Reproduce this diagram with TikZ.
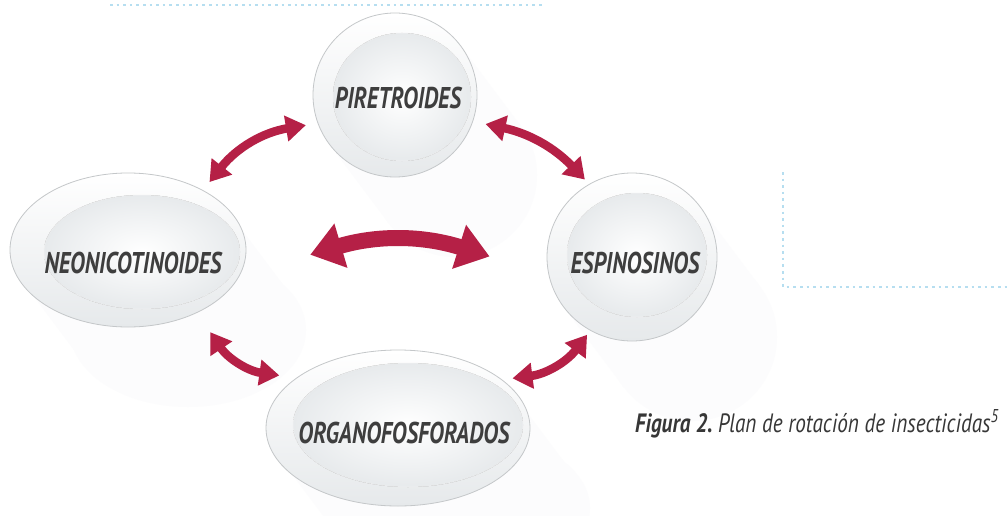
\documentclass[tikz,border=0pt]{standalone}
\usepackage{fontspec}
\usetikzlibrary{arrows.meta,shapes.geometric,calc}
\newfontfamily\labfont[FakeStretch=0.755]{PT Sans}
\newfontfamily\capfont[FakeStretch=0.8]{PT Sans}
\definecolor{arrred}{RGB}{181,32,70}
\definecolor{labgray}{RGB}{62,62,62}
\definecolor{capgray}{RGB}{55,55,55}
\definecolor{rimline}{RGB}{196,199,201}
\definecolor{rimfill}{RGB}{230,233,235}
\definecolor{innerfill}{RGB}{231,234,236}
\definecolor{dotblue}{RGB}{182,222,240}
\definecolor{shadowc}{RGB}{252,252,253}
\tikzset{
  disc/.style={ellipse, inner sep=0pt, draw=rimline, line width=0.8pt,
    top color=white, bottom color=rimfill},
  innerdisc/.style={inner color=white, outer color=innerfill, draw=gray!10, line width=0.5pt},
  lab/.style={font=\labfont\bfseries\itshape\fontsize{30}{32}\selectfont, text=labgray, inner sep=0pt},
  arr/.style={draw=arrred, line width=8.5pt,
    {Triangle[length=20pt,width=25pt]}-{Triangle[length=20pt,width=25pt]}},
  bigarr/.style={draw=arrred, line width=16pt,
    {Triangle[length=32pt,width=44pt]}-{Triangle[length=32pt,width=44pt]}},
  dotline/.style={draw=dotblue, line width=2.6pt, dash pattern=on 2.6pt off 4pt},
}
\begin{document}
\begin{tikzpicture}[x=1pt,y=-1pt]
\useasboundingbox[fill=white] (0,0) rectangle (1008,516);
% faint dotted frame lines
\draw[dotline] (110,5) -- (545,5);
\draw[dotline] (783,172) -- (783,287) -- (1008,287);
% faint shadows
\foreach \cx/\cy/\rx/\ry in {395/95/82/82, 128/250/118/77, 398/428/132/78, 632/257/85/84}{
  \fill[shadowc] ($(\cx,\cy)+(37:\rx pt and \ry pt)$) -- ++(60pt,-80pt)
     -- ($(\cx,\cy)+(217:\rx pt and \ry pt)+(60pt,-80pt)$)
     -- ($(\cx,\cy)+(217:\rx pt and \ry pt)$) -- cycle;
  \fill[shadowc] ($(\cx,\cy)+(60pt,-80pt)$) ellipse [x radius=\rx pt, y radius=\ry pt];
}
% discs
\node[disc, minimum width=164pt, minimum height=164pt] (pir) at (395,95) {};
\fill[innerdisc] (402,97) ellipse [x radius=69pt, y radius=64pt];
\node[lab] (pirt) at (398,98) {PIRETROIDES};

\node[disc, minimum width=236pt, minimum height=154pt] (neo) at (128,250) {};
\fill[innerdisc] (142,252) ellipse [x radius=98pt, y radius=57pt];
\node[lab] (neot) at (133,263) {NEONICOTINOIDES};

\node[disc, minimum width=264pt, minimum height=156pt] (org) at (398,428) {};
\fill[innerdisc] (408,425) ellipse [x radius=115pt, y radius=62pt];
\node[lab] (orgt) at (404,433) {ORGANOFOSFORADOS};

\node[disc, minimum width=170pt, minimum height=168pt] (esp) at (632,257) {};
\fill[innerdisc] (637,255) ellipse [x radius=70pt, y radius=62pt];
\node[lab] (espt) at (635,263) {ESPINOSINOS};

% arrow end points
\coordinate (a1s) at ($(neo.41)!12pt!(pir.197)$);
\coordinate (a1e) at ($(pir.197)!12pt!(neo.41)$);
\coordinate (a2s) at ($(pir.344)!13pt!(esp.119)$);
\coordinate (a2e) at ($(esp.119)!7pt!(pir.344)$);
\coordinate (a4s) at ($(neo.311)!28pt!(org.157)$);
\coordinate (a4e) at ($(org.157)!13pt!(neo.311)$);
\coordinate (a5s) at ($(org.23)!8pt!(esp.242)$);
\coordinate (a5e) at ($(esp.242)!6pt!(org.23)$);
\coordinate (a3s) at ($(neo.-2)!64pt!(esp.180)$);
\coordinate (a3e) at ($(esp.180)!57pt!(neo.-2)$);
% arrows
\draw[arr] (a1s) to[bend left=21] (a1e);
\draw[arr] (a2s) to[bend left=17] (a2e);
\draw[arr] (a4s) to[bend right=24] (a4e);
\draw[arr] (a5s) to[bend right=23] (a5e);
\draw[bigarr] (a3s) to[bend left=17] (a3e);
% caption
\node[anchor=base west, inner sep=0pt, text=capgray,
      font=\capfont\fontsize{26.5}{28}\selectfont] (cap) at (635,432)
  {\bfseries\itshape Figura 2.\ \mdseries Plan de rotación de insecticidas\textsuperscript{5}};
\end{tikzpicture}
\end{document}
